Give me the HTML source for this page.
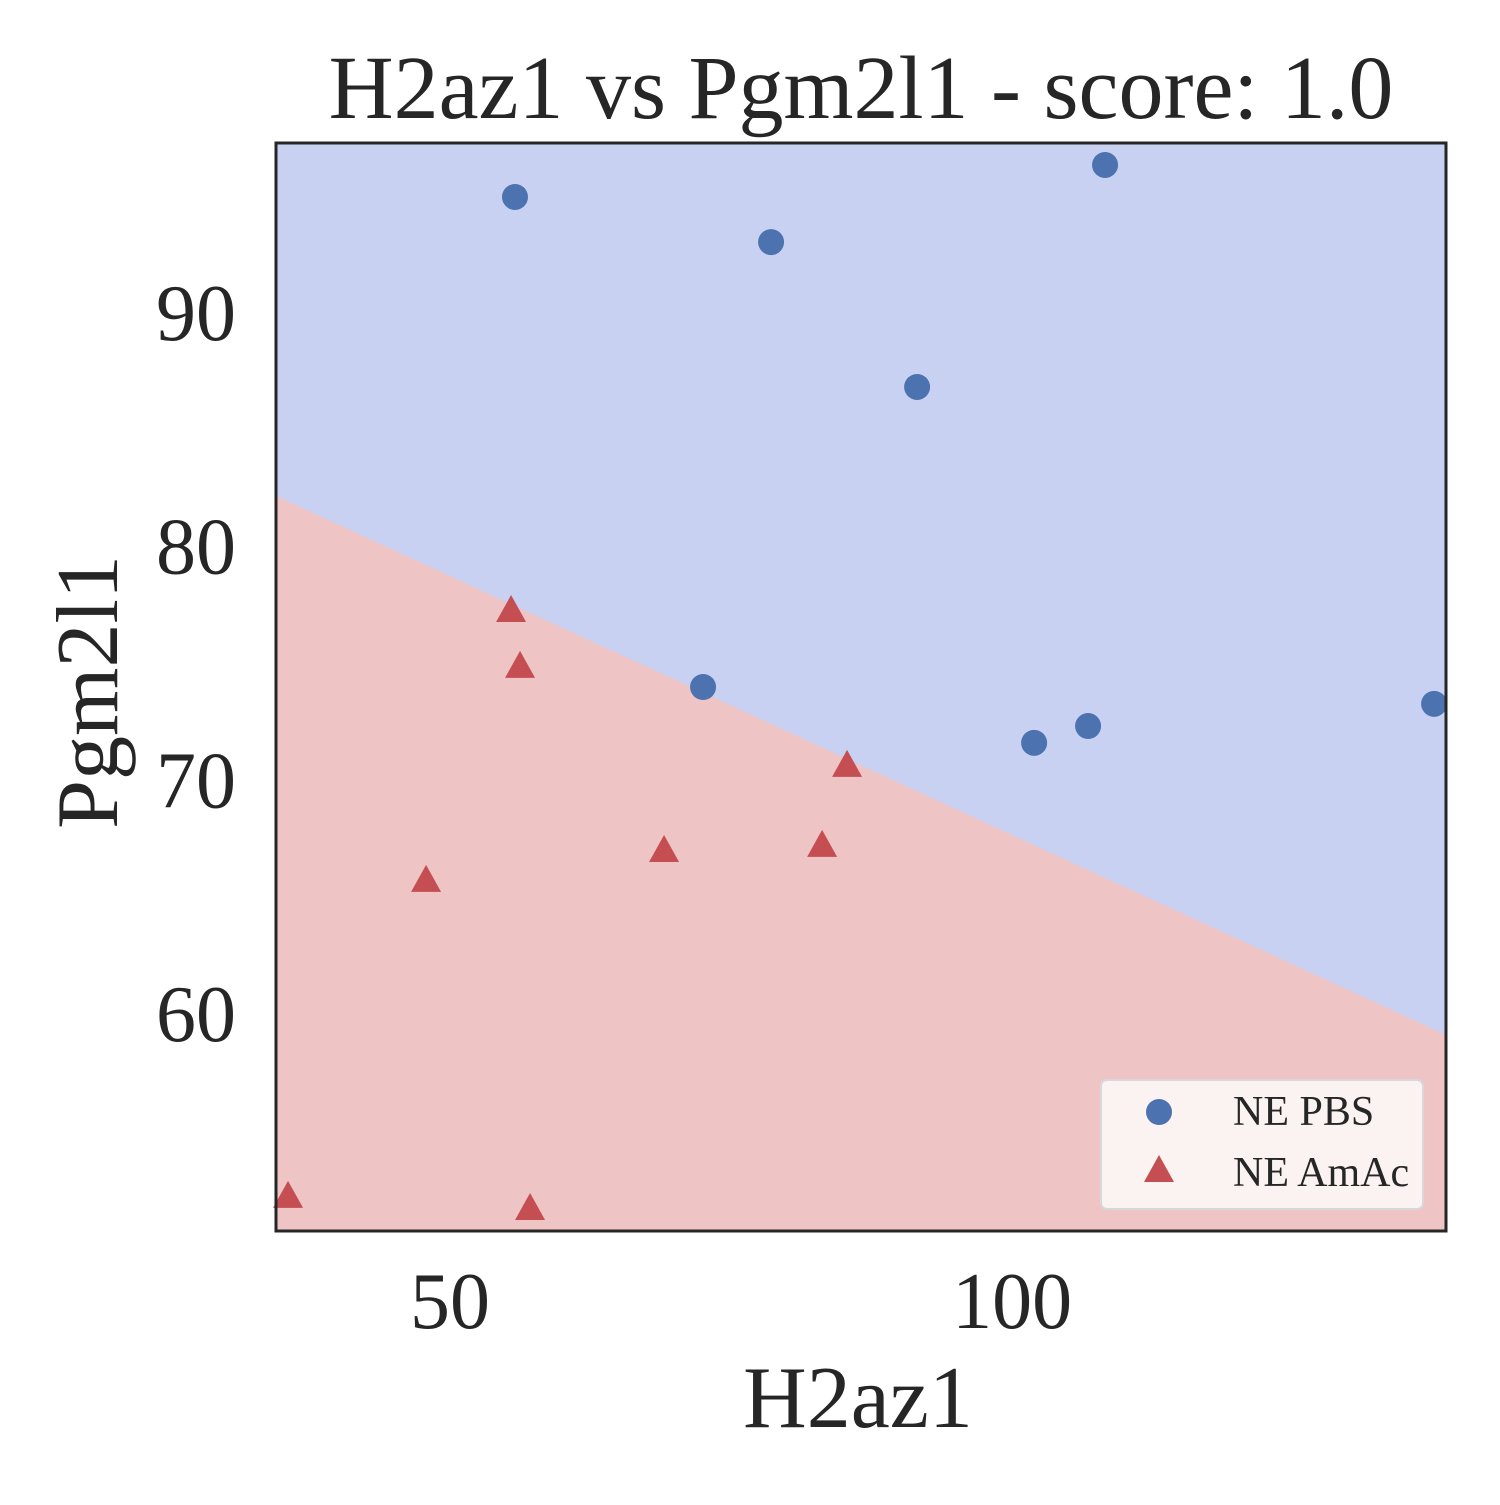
<!DOCTYPE html>
<html><head><meta charset="utf-8"><style>
body{margin:0;background:#fff;}
svg text{font-family:"Liberation Serif",serif;fill:#262626;}
</style></head><body>
<svg width="1500" height="1500" viewBox="0 0 1500 1500">
<g id="plot"></g>
<text x="861" y="118" font-size="90" text-anchor="middle">H2az1 vs Pgm2l1 - score: 1.0</text>
<text x="858" y="1427" font-size="88" text-anchor="middle">H2az1</text>
<text transform="translate(117,692) rotate(-90)" font-size="88" text-anchor="middle">Pgm2l1</text>
</svg>
<script>
const xTicks=[50,100];
const yTicks=[60,70,80,90];
const boundaryX=[34.52,138.6];
const boundaryY=[82.13,59.06];
const pbsX=[55.78,78.56,108.27,91.55,72.51,101.96,106.76,137.54];
const pbsY=[94.92,92.99,96.29,86.79,73.95,71.56,72.28,73.23];
const amacX=[55.43,56.23,85.32,69.04,83.10,47.87,35.59,57.12];
const amacY=[77.16,74.77,70.53,66.89,67.11,65.61,52.09,51.57];
const X0=276,X1=1446,Y0=143,Y1=1231,xmin=34.52,xmax=138.6,ymin=50.67,ymax=97.23;
const sx=v=>X0+(v-xmin)/(xmax-xmin)*(X1-X0);
const sy=v=>Y1-(v-ymin)/(ymax-ymin)*(Y1-Y0);
const NS='http://www.w3.org/2000/svg';
const g=document.getElementById('plot');
function mk(t,a){const e=document.createElementNS(NS,t);for(const k in a)e.setAttribute(k,a[k]);g.appendChild(e);return e;}
let e=mk('rect',{x:X0,y:Y0,width:X1-X0,height:Y1-Y0,fill:'#c8d1f2'});


const bx0=sx(boundaryX[0]),by0=sy(boundaryY[0]),bx1=sx(boundaryX[1]),by1=sy(boundaryY[1]);
e=mk('polygon',{points:`${bx0},${by0} ${bx1},${by1} ${X1},${Y1} ${X0},${Y1}`,fill:'#eec4c4'});


xTicks.forEach(v=>{const t=mk('text',{x:sx(v),y:1328,'font-size':80,'text-anchor':'middle'});t.textContent=v;

});
yTicks.forEach(v=>{const t=mk('text',{x:236,y:sy(v)+28,'font-size':80,'text-anchor':'end'});t.textContent=v;

});
pbsX.forEach((v,i)=>{const c=mk('circle',{cx:sx(v),cy:sy(pbsY[i]),r:13,fill:'#4c72b0'});

});
amacX.forEach((v,i)=>{const x=sx(v),y=sy(amacY[i]);const p=mk('polygon',{points:`${x},${y-17} ${x-15},${y+10} ${x+15},${y+10}`,fill:'#c44e52'});

});
e=mk('rect',{x:X0,y:Y0,width:X1-X0,height:Y1-Y0,fill:'none',stroke:'#262626','stroke-width':3});


const lg=mk('rect',{x:1101,y:1080,width:322,height:129,rx:6,fill:'#fbf2f2',stroke:'#d8d8d8','stroke-width':2});


e=mk('circle',{cx:1159,cy:1112,r:13,fill:'#4c72b0'});


e=mk('polygon',{points:'1159,1155 1144,1182 1174,1182',fill:'#c44e52'});


let t=mk('text',{x:1233,y:1125,'font-size':42});t.textContent='NE PBS';


t=mk('text',{x:1233,y:1186,'font-size':42});t.textContent='NE AmAc';


</script>
</body></html>
